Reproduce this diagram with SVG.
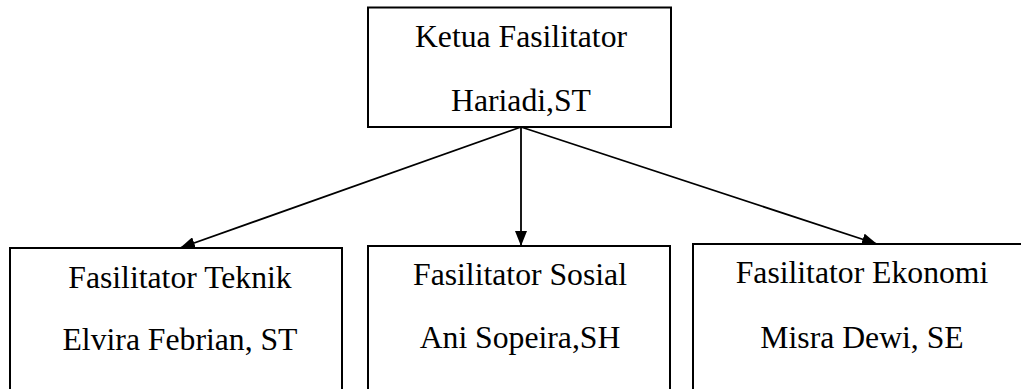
<svg xmlns="http://www.w3.org/2000/svg" width="1021" height="389" viewBox="0 0 1021 389">
<style>
.box{fill:#fff;stroke:#000;stroke-width:2}
.t{font-family:'Liberation Serif','Times New Roman',serif;font-size:31.7px;fill:#000;text-anchor:middle}
.c{stroke:#000;stroke-width:1.8;fill:none}
</style>
<defs>
<marker id="ah" viewBox="0 0 15 12" refX="15" refY="6" markerWidth="15" markerHeight="12" markerUnits="userSpaceOnUse" orient="auto">
<path d="M0,0 L15,6 L0,12 Z" fill="#000"/>
</marker>
</defs>
<g id="ketua">
<rect class="box" x="368" y="7.5" width="303" height="119.5"/>
<text class="t" x="521" y="47">Ketua Fasilitator</text>
<text class="t" x="521" y="111">Hariadi,ST</text>
</g>
<g id="teknik">
<rect class="box" x="10" y="248" width="332" height="150"/>
<text class="t" x="180" y="288">Fasilitator Teknik</text>
<text class="t" x="180" y="350">Elvira Febrian, ST</text>
</g>
<g id="sosial">
<rect class="box" x="368" y="246" width="302" height="152"/>
<text class="t" x="520" y="285">Fasilitator Sosial</text>
<text class="t" x="520" y="348">Ani Sopeira,SH</text>
</g>
<g id="ekonomi">
<rect class="box" x="693" y="244" width="335" height="154"/>
<text class="t" x="862" y="283">Fasilitator Ekonomi</text>
<text class="t" x="862" y="348">Misra Dewi, SE</text>
</g>
<g id="connectors">
<line class="c" x1="521" y1="127" x2="180" y2="248" marker-end="url(#ah)"/>
<line class="c" x1="521" y1="127" x2="521" y2="246" marker-end="url(#ah)"/>
<line class="c" x1="521" y1="127" x2="877" y2="244" marker-end="url(#ah)"/>
</g>
</svg>
